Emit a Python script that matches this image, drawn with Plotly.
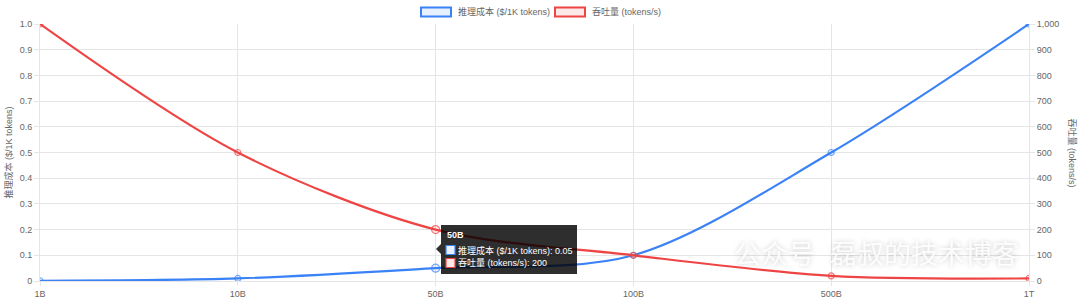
import plotly.graph_objects as go

categories = ["1B", "10B", "50B", "100B", "500B", "1T"]
cost = [0.001, 0.01, 0.05, 0.1, 0.5, 1.0]
throughput = [1000, 500, 200, 100, 20, 10]
cost_name = "推理成本 ($/1K tokens)"
tp_name = "吞吐量 (tokens/s)"
left_ticks = [0, 0.1, 0.2, 0.3, 0.4, 0.5, 0.6, 0.7, 0.8, 0.9, 1.0]
left_ticktext = ["0", "0.1", "0.2", "0.3", "0.4", "0.5", "0.6", "0.7", "0.8", "0.9", "1.0"]
right_ticks = [0, 100, 200, 300, 400, 500, 600, 700, 800, 900, 1000]
hover_idx = 2
watermark = "公众号  磊叔的技术博客"

BLUE = "#3b82f6"
RED = "#ef4444"
FONT = "Liberation Sans, Noto Sans CJK SC, sans-serif"
GRID = "#e5e5e5"
TXT = "#666666"
FS = 9

W, H = 1080, 303
ML, MR, MT, MB = 40, 51, 24, 22

fig = go.Figure()
fig.add_trace(go.Scatter(
    x=categories, y=cost, name=cost_name, mode="lines+markers",
    line=dict(color=BLUE, width=2.2, shape="spline", smoothing=0.9),
    marker=dict(size=[6, 6, 8, 6, 6, 6], color="rgba(59,130,246,0.12)", line=dict(color=BLUE, width=1.2)),
    yaxis="y", showlegend=False))
fig.add_trace(go.Scatter(
    x=categories, y=throughput, name=tp_name, mode="lines+markers",
    line=dict(color=RED, width=2.2, shape="spline", smoothing=0.9),
    marker=dict(size=[6, 6, 8, 6, 6, 6], color="rgba(239,68,68,0.12)", line=dict(color=RED, width=1.2)),
    yaxis="y2", showlegend=False))

fig.update_layout(
    width=W, height=H, autosize=False,
    margin=dict(l=ML, r=MR, t=MT, b=MB, pad=0, autoexpand=False),
    showlegend=False,
    paper_bgcolor="white", plot_bgcolor="white",
    font=dict(family=FONT, size=FS, color=TXT),
    xaxis=dict(type="category", range=[0, 5], showgrid=True, gridcolor=GRID, gridwidth=1,
               ticks="outside", ticklen=4, tickcolor=GRID, showline=True, linecolor=GRID,
               zeroline=False, automargin=False, tickfont=dict(size=FS, color=TXT)),
    yaxis=dict(range=[0, 1], tickvals=left_ticks, ticktext=left_ticktext, showgrid=True,
               gridcolor=GRID, ticks="outside", ticklen=5, tickcolor=GRID, showline=True,
               linecolor=GRID, zeroline=False, automargin=False, tickfont=dict(size=FS, color=TXT)),
    yaxis2=dict(range=[0, 1000], tickvals=right_ticks, tickformat=",", overlaying="y", side="right",
                showgrid=False, ticks="outside", ticklen=5, tickcolor=GRID, showline=True,
                linecolor=GRID, zeroline=False, automargin=False, tickfont=dict(size=FS, color=TXT)),
    hovermode=False,
)

shapes = []
annotations = []

def px_x(p):
    return (p - ML) / (W - ML - MR)
def px_y(p):
    return 1 - (p - MT) / (H - MT - MB)

# Axis titles
annotations.append(dict(xref="paper", yref="paper", x=px_x(8), y=0.5, xanchor="center", yanchor="middle",
                        text=cost_name, textangle=-90, showarrow=False, font=dict(size=FS, color=TXT)))
annotations.append(dict(xref="paper", yref="paper", x=px_x(1072), y=0.5, xanchor="center", yanchor="middle",
                        text=tp_name, textangle=90, showarrow=False, font=dict(size=FS, color=TXT)))

# Legend (chart.js style boxes)
legend_items = [(cost_name, BLUE, "rgba(59,130,246,0.12)", 421, 456),
                (tp_name, RED, "rgba(239,68,68,0.12)", 555, 590)]
for name, col, fill, bx, tx in legend_items:
    shapes.append(dict(type="rect", xref="paper", yref="paper", x0=px_x(bx), x1=px_x(bx + 30),
                       y0=px_y(16.5), y1=px_y(7.5), line=dict(color=col, width=2), fillcolor=fill, layer="above"))
    annotations.append(dict(xref="paper", yref="paper", x=px_x(tx), y=px_y(12), xanchor="left", yanchor="middle",
                            text=name, showarrow=False, font=dict(size=FS, color=TXT)))

# Watermark
annotations.append(dict(xref="paper", yref="paper", x=px_x(876), y=px_y(255), xanchor="center", yanchor="middle",
                        text=watermark, showarrow=False,
                        font=dict(size=27, color="rgba(255,255,255,0.92)",
                                  shadow="0px 0px 5px rgba(0,0,0,0.22)")))

# Tooltip at hovered category
tip_x0, tip_x1, tip_y0, tip_y1 = 441, 577, 225, 274
shapes.append(dict(type="rect", xref="paper", yref="paper", x0=px_x(tip_x0), x1=px_x(tip_x1),
                   y0=px_y(tip_y1), y1=px_y(tip_y0), line=dict(width=0), fillcolor="rgba(0,0,0,0.82)", layer="above"))
shapes.append(dict(type="path", xref="paper", yref="paper",
                   path=f"M {px_x(441)},{px_y(244)} L {px_x(436)},{px_y(249)} L {px_x(441)},{px_y(254)} Z",
                   line=dict(width=0), fillcolor="rgba(0,0,0,0.82)", layer="above"))
annotations.append(dict(xref="paper", yref="paper", x=px_x(445), y=px_y(235), xanchor="left", yanchor="middle",
                        text=f"<b>{categories[hover_idx]}</b>", showarrow=False, font=dict(size=FS, color="white")))
rows = [(cost_name, f"{cost[hover_idx]:g}", BLUE, "#e8f0fe", 250),
        (tp_name, f"{throughput[hover_idx]:,}", RED, "#fde8e8", 263)]
for name, val, col, fill, yy in rows:
    shapes.append(dict(type="rect", xref="paper", yref="paper", x0=px_x(446), x1=px_x(455),
                       y0=px_y(yy + 4.5), y1=px_y(yy - 4.5), line=dict(color=col, width=1.2), fillcolor=fill, layer="above"))
    annotations.append(dict(xref="paper", yref="paper", x=px_x(456), y=px_y(yy), xanchor="left", yanchor="middle",
                            text=f"{name}: {val}", showarrow=False, font=dict(size=FS, color="white")))

fig.update_layout(shapes=shapes, annotations=annotations)
fig.write_html("out.html")
